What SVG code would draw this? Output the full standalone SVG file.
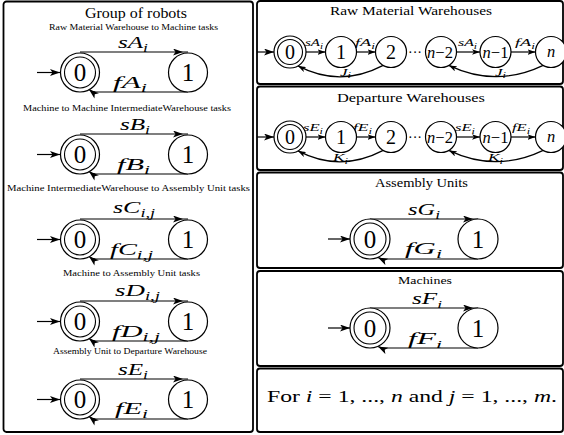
<svg xmlns="http://www.w3.org/2000/svg" width="564" height="435" viewBox="0 0 564 435">
<defs>
<style>
.t{font-family:"Liberation Serif","Times New Roman",serif;fill:#000}
.m{font-family:"Liberation Serif","Times New Roman",serif;font-style:italic;fill:#000}
.frame{fill:none;stroke:#000;stroke-width:1.8}
.st{fill:#fff;stroke:#000;stroke-width:1.2}
.in{fill:none;stroke:#000;stroke-width:1.1}
.e{fill:none;stroke:#000;stroke-width:1.2}
.big{font-size:25px}
.ch{font-size:20px}
</style>
<marker id="ah" viewBox="0 0 10 7" markerWidth="10" markerHeight="7" refX="10" refY="3.5" orient="auto" markerUnits="userSpaceOnUse"><path d="M0,0 L10,3.5 L0,7 L2.5,3.5 Z" fill="#000"/></marker>
<marker id="as" viewBox="0 0 10 7" markerWidth="8" markerHeight="5.6" refX="10" refY="3.5" orient="auto" markerUnits="userSpaceOnUse"><path d="M0,0 L10,3.5 L0,7 L2.5,3.5 Z" fill="#000"/></marker>
</defs>
<rect width="564" height="435" fill="#fff"/>

<g id="frames">
<rect class="frame" x="3.5" y="1.5" width="249.5" height="430.5" rx="3" stroke-width="2"/>
<rect class="frame" x="257" y="1" width="306" height="83" rx="3"/>
<rect class="frame" x="257" y="86.5" width="306" height="83.5" rx="3"/>
<rect class="frame" x="257" y="172.5" width="306" height="95.5" rx="3"/>
<rect class="frame" x="257" y="271" width="306" height="95" rx="3"/>
<rect class="frame" x="257" y="368.5" width="306" height="63.5" rx="3"/>
</g>

<g id="titles">
<text class="t" x="85" y="17.5" font-size="15" textLength="102" lengthAdjust="spacingAndGlyphs">Group of robots</text>
<text class="t" x="49" y="30" font-size="9" textLength="169" lengthAdjust="spacingAndGlyphs">Raw Material Warehouse to Machine tasks</text>
<text class="t" x="23" y="111" font-size="9" textLength="208" lengthAdjust="spacingAndGlyphs">Machine to Machine IntermediateWarehouse tasks</text>
<text class="t" x="7" y="191" font-size="9" textLength="243" lengthAdjust="spacingAndGlyphs">Machine IntermediateWarehouse to Assembly Unit tasks</text>
<text class="t" x="63" y="275.5" font-size="9" textLength="137" lengthAdjust="spacingAndGlyphs">Machine to Assembly Unit tasks</text>
<text class="t" x="53" y="353.5" font-size="8.5" textLength="154" lengthAdjust="spacingAndGlyphs">Assembly Unit to Departure Warehouse</text>
<text class="t" x="330" y="15" font-size="13" textLength="162" lengthAdjust="spacingAndGlyphs">Raw Material Warehouses</text>
<text class="t" x="337" y="101.5" font-size="13" textLength="148" lengthAdjust="spacingAndGlyphs">Departure Warehouses</text>
<text class="t" x="375" y="186.5" font-size="12.5" textLength="93" lengthAdjust="spacingAndGlyphs">Assembly Units</text>
<text class="t" x="398" y="284" font-size="10.5" textLength="54" lengthAdjust="spacingAndGlyphs">Machines</text>
<text class="t" x="267" y="402" font-size="17" textLength="290" lengthAdjust="spacingAndGlyphs">For <tspan class="m">i</tspan> = 1, ..., <tspan class="m">n</tspan> and <tspan class="m">j</tspan> = 1, ..., <tspan class="m">m</tspan>.</text>
</g>

<g id="connectors">
<path class="e" d="M37,72.5 H60" marker-end="url(#ah)"/>
<path class="e" d="M80,52 H183 H188" marker-mid="url(#ah)"/>
<path class="e" d="M188,92 H96 Q92,92 89,89.5" marker-end="url(#ah)"/>

<path class="e" d="M37,154.5 H60" marker-end="url(#ah)"/>
<path class="e" d="M80,134 H183 H188" marker-mid="url(#ah)"/>
<path class="e" d="M188,174 H96 Q92,174 89,171.5" marker-end="url(#ah)"/>

<path class="e" d="M37,239.5 H60" marker-end="url(#ah)"/>
<path class="e" d="M80,219 H183 H188" marker-mid="url(#ah)"/>
<path class="e" d="M188,259 H96 Q92,259 89,256.5" marker-end="url(#ah)"/>

<path class="e" d="M37,321.5 H60" marker-end="url(#ah)"/>
<path class="e" d="M80,301 H183 H188" marker-mid="url(#ah)"/>
<path class="e" d="M188,341 H96 Q92,341 89,338.5" marker-end="url(#ah)"/>

<path class="e" d="M37,399.5 H60" marker-end="url(#ah)"/>
<path class="e" d="M80,379 H183 H188" marker-mid="url(#ah)"/>
<path class="e" d="M188,419 H96 Q92,419 89,416.5" marker-end="url(#ah)"/>

<path class="e" d="M257,52 H274" marker-end="url(#ah)"/>
<path class="e" d="M306,52 H325.5" marker-end="url(#as)"/>
<path class="e" d="M356.5,52 H375.5" marker-end="url(#as)"/>
<path class="e" d="M456.5,52 H480" marker-end="url(#as)"/>
<path class="e" d="M511,52 H535.5" marker-end="url(#as)"/>
<path class="e" d="M383.2,65.4 Q340,88 298,65.9" marker-end="url(#as)"/>
<path class="e" d="M543.2,65.4 Q496,88 448.8,65.4" marker-end="url(#as)"/>

<path class="e" d="M257,137 H274" marker-end="url(#ah)"/>
<path class="e" d="M306,137 H325.5" marker-end="url(#as)"/>
<path class="e" d="M356.5,137 H375.5" marker-end="url(#as)"/>
<path class="e" d="M456.5,137 H480" marker-end="url(#as)"/>
<path class="e" d="M511,137 H535.5" marker-end="url(#as)"/>
<path class="e" d="M383.2,150.4 Q340,173 298,150.9" marker-end="url(#as)"/>
<path class="e" d="M543.2,150.4 Q496,173 448.8,150.4" marker-end="url(#as)"/>

<path class="e" d="M328,239 H350" marker-end="url(#ah)"/>
<path class="e" d="M370,219 H473 H478" marker-mid="url(#ah)"/>
<path class="e" d="M478,259 H384 Q381,259 378,257.5" marker-end="url(#ah)"/>

<path class="e" d="M328,328 H350" marker-end="url(#ah)"/>
<path class="e" d="M370,308 H473 H478" marker-mid="url(#ah)"/>
<path class="e" d="M478,348 H384 Q381,348 378,346.5" marker-end="url(#ah)"/>
</g>

<g id="edge-labels">
<text class="m" x="118" y="47.5" font-size="16.5" textLength="30" lengthAdjust="spacingAndGlyphs">sA<tspan font-size="11.5" dy="4">i</tspan></text>
<text class="m" x="113" y="88" font-size="17" textLength="34" lengthAdjust="spacingAndGlyphs">fA<tspan font-size="12" dy="4">i</tspan></text>
<text class="m" x="120" y="129.5" font-size="16.5" textLength="30" lengthAdjust="spacingAndGlyphs">sB<tspan font-size="11.5" dy="4">i</tspan></text>
<text class="m" x="117" y="170" font-size="17" textLength="33" lengthAdjust="spacingAndGlyphs">fB<tspan font-size="12" dy="4">i</tspan></text>
<text class="m" x="113" y="212.5" font-size="16.5" textLength="42" lengthAdjust="spacingAndGlyphs">sC<tspan font-size="11.5" dy="4">i,j</tspan></text>
<text class="m" x="110" y="255" font-size="17" textLength="43" lengthAdjust="spacingAndGlyphs">fC<tspan font-size="12" dy="4">i,j</tspan></text>
<text class="m" x="115" y="295.5" font-size="16.5" textLength="45" lengthAdjust="spacingAndGlyphs">sD<tspan font-size="11.5" dy="4">i,j</tspan></text>
<text class="m" x="112" y="337" font-size="17" textLength="48" lengthAdjust="spacingAndGlyphs">fD<tspan font-size="12" dy="4">i,j</tspan></text>
<text class="m" x="118" y="374.5" font-size="16.5" textLength="30" lengthAdjust="spacingAndGlyphs">sE<tspan font-size="11.5" dy="4">i</tspan></text>
<text class="m" x="115" y="414" font-size="17" textLength="33" lengthAdjust="spacingAndGlyphs">fE<tspan font-size="12" dy="4">i</tspan></text>

<text class="m" x="305" y="46" font-size="11" textLength="18" lengthAdjust="spacingAndGlyphs">sA<tspan font-size="8" dy="2.5">i</tspan></text>
<text class="m" x="355" y="46" font-size="11" textLength="20" lengthAdjust="spacingAndGlyphs">fA<tspan font-size="8" dy="2.5">i</tspan></text>
<text class="m" x="458" y="46" font-size="11" textLength="19" lengthAdjust="spacingAndGlyphs">sA<tspan font-size="8" dy="2.5">i</tspan></text>
<text class="m" x="515" y="46" font-size="11" textLength="20" lengthAdjust="spacingAndGlyphs">fA<tspan font-size="8" dy="2.5">i</tspan></text>
<text class="m" x="340" y="75.5" font-size="11" textLength="11" lengthAdjust="spacingAndGlyphs">J<tspan font-size="8" dy="2.5">i</tspan></text>
<text class="m" x="495" y="75.5" font-size="11" textLength="11" lengthAdjust="spacingAndGlyphs">J<tspan font-size="8" dy="2.5">i</tspan></text>

<text class="m" x="303" y="131" font-size="11" textLength="20" lengthAdjust="spacingAndGlyphs">sE<tspan font-size="8" dy="2.5">i</tspan></text>
<text class="m" x="353" y="131" font-size="11" textLength="19" lengthAdjust="spacingAndGlyphs">fE<tspan font-size="8" dy="2.5">i</tspan></text>
<text class="m" x="455" y="131" font-size="11" textLength="20" lengthAdjust="spacingAndGlyphs">sE<tspan font-size="8" dy="2.5">i</tspan></text>
<text class="m" x="512" y="131" font-size="11" textLength="18" lengthAdjust="spacingAndGlyphs">fE<tspan font-size="8" dy="2.5">i</tspan></text>
<text class="m" x="333" y="161" font-size="11" textLength="15" lengthAdjust="spacingAndGlyphs">K<tspan font-size="8" dy="2.5">i</tspan></text>
<text class="m" x="488" y="161" font-size="11" textLength="15" lengthAdjust="spacingAndGlyphs">K<tspan font-size="8" dy="2.5">i</tspan></text>

<text class="m" x="408" y="215" font-size="17" textLength="32" lengthAdjust="spacingAndGlyphs">sG<tspan font-size="12" dy="4">i</tspan></text>
<text class="m" x="405" y="254" font-size="17" textLength="37" lengthAdjust="spacingAndGlyphs">fG<tspan font-size="12" dy="4">i</tspan></text>
<text class="m" x="412" y="304" font-size="16" textLength="30" lengthAdjust="spacingAndGlyphs">sF<tspan font-size="11" dy="4">i</tspan></text>
<text class="m" x="408" y="344" font-size="16" textLength="34" lengthAdjust="spacingAndGlyphs">fF<tspan font-size="11" dy="4">i</tspan></text>

<text class="t" x="415" y="56.5" font-size="14" text-anchor="middle">···</text>
<text class="t" x="415" y="141.5" font-size="14" text-anchor="middle">···</text>
</g>

<g id="robA0"><circle class="st" cx="80" cy="72.5" r="19.5"/><circle class="in" cx="80" cy="72.5" r="15.5"/><text class="t big" x="80" y="81" text-anchor="middle">0</text></g>
<g id="robA1"><circle class="st" cx="188" cy="72.5" r="19.5"/><text class="t big" x="188" y="81" text-anchor="middle">1</text></g>
<g id="robB0"><circle class="st" cx="80" cy="154.5" r="19.5"/><circle class="in" cx="80" cy="154.5" r="15.5"/><text class="t big" x="80" y="163" text-anchor="middle">0</text></g>
<g id="robB1"><circle class="st" cx="188" cy="154.5" r="19.5"/><text class="t big" x="188" y="163" text-anchor="middle">1</text></g>
<g id="robC0"><circle class="st" cx="80" cy="239.5" r="19.5"/><circle class="in" cx="80" cy="239.5" r="15.5"/><text class="t big" x="80" y="248" text-anchor="middle">0</text></g>
<g id="robC1"><circle class="st" cx="188" cy="239.5" r="19.5"/><text class="t big" x="188" y="248" text-anchor="middle">1</text></g>
<g id="robD0"><circle class="st" cx="80" cy="321.5" r="19.5"/><circle class="in" cx="80" cy="321.5" r="15.5"/><text class="t big" x="80" y="330" text-anchor="middle">0</text></g>
<g id="robD1"><circle class="st" cx="188" cy="321.5" r="19.5"/><text class="t big" x="188" y="330" text-anchor="middle">1</text></g>
<g id="robE0"><circle class="st" cx="80" cy="399.5" r="19.5"/><circle class="in" cx="80" cy="399.5" r="15.5"/><text class="t big" x="80" y="408" text-anchor="middle">0</text></g>
<g id="robE1"><circle class="st" cx="188" cy="399.5" r="19.5"/><text class="t big" x="188" y="408" text-anchor="middle">1</text></g>

<g id="rm0"><circle class="st" cx="290" cy="52" r="16"/><circle class="in" cx="290" cy="52" r="12.5"/><text class="t ch" x="290" y="59" text-anchor="middle">0</text></g>
<g id="rm1"><circle class="st" cx="341" cy="52" r="15.5"/><text class="t ch" x="341" y="59" text-anchor="middle">1</text></g>
<g id="rm2"><circle class="st" cx="391" cy="52" r="15.5"/><text class="t ch" x="391" y="59" text-anchor="middle">2</text></g>
<g id="rmn2"><circle class="st" cx="441" cy="52" r="15.5"/><text class="t" x="440" y="58" font-size="16.5" text-anchor="middle"><tspan class="m">n</tspan>−2</text></g>
<g id="rmn1"><circle class="st" cx="495.5" cy="52" r="15.5"/><text class="t" x="495.5" y="58" font-size="16.5" text-anchor="middle"><tspan class="m">n</tspan>−1</text></g>
<g id="rmn"><circle class="st" cx="551" cy="52" r="15.5"/><text class="m" x="551" y="57" font-size="16.5" text-anchor="middle">n</text></g>

<g id="dw0"><circle class="st" cx="290" cy="137" r="16"/><circle class="in" cx="290" cy="137" r="12.5"/><text class="t ch" x="290" y="144" text-anchor="middle">0</text></g>
<g id="dw1"><circle class="st" cx="341" cy="137" r="15.5"/><text class="t ch" x="341" y="144" text-anchor="middle">1</text></g>
<g id="dw2"><circle class="st" cx="391" cy="137" r="15.5"/><text class="t ch" x="391" y="144" text-anchor="middle">2</text></g>
<g id="dwn2"><circle class="st" cx="441" cy="137" r="15.5"/><text class="t" x="440" y="143" font-size="16.5" text-anchor="middle"><tspan class="m">n</tspan>−2</text></g>
<g id="dwn1"><circle class="st" cx="495.5" cy="137" r="15.5"/><text class="t" x="495.5" y="143" font-size="16.5" text-anchor="middle"><tspan class="m">n</tspan>−1</text></g>
<g id="dwn"><circle class="st" cx="551" cy="137" r="15.5"/><text class="m" x="551" y="142" font-size="16.5" text-anchor="middle">n</text></g>

<g id="au0"><circle class="st" cx="370" cy="239" r="20"/><circle class="in" cx="370" cy="239" r="16"/><text class="t big" x="370" y="247.5" text-anchor="middle">0</text></g>
<g id="au1"><circle class="st" cx="478" cy="239" r="20"/><text class="t big" x="478" y="247.5" text-anchor="middle">1</text></g>

<g id="ma0"><circle class="st" cx="370" cy="328" r="20"/><circle class="in" cx="370" cy="328" r="16"/><text class="t big" x="370" y="336.5" text-anchor="middle">0</text></g>
<g id="ma1"><circle class="st" cx="478" cy="328" r="20"/><text class="t big" x="478" y="336.5" text-anchor="middle">1</text></g>
</svg>
